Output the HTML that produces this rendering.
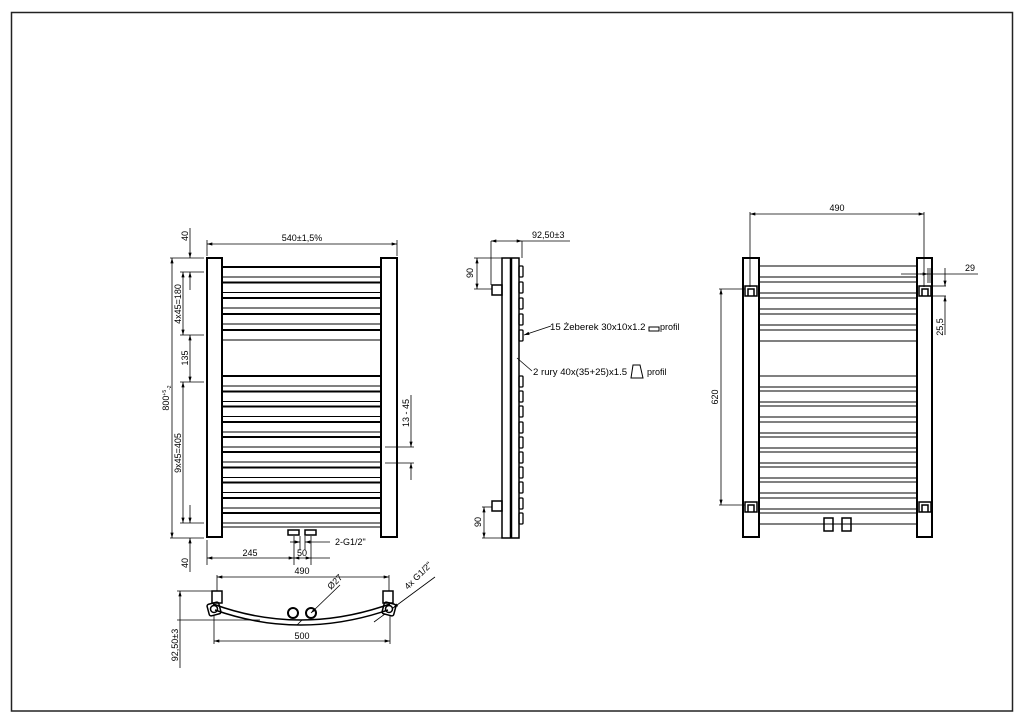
<!DOCTYPE html>
<html><head><meta charset="utf-8"><style>
html,body{margin:0;padding:0;background:#fff;}
svg{display:block;}
text{font-family:"Liberation Sans",sans-serif;font-size:9px;fill:#000;}
</style></head><body>
<svg width="1024" height="724" viewBox="0 0 1024 724" xmlns="http://www.w3.org/2000/svg">
<defs>
<marker id="a" viewBox="0 0 10 6" refX="10" refY="3" markerWidth="8" markerHeight="4" orient="auto-start-reverse"><path d="M0,0L10,3L0,6z" fill="#000"/></marker>
</defs>
<rect x="11.5" y="12.5" width="1001" height="698.5" fill="none" stroke="#222" stroke-width="1.5"/>

<!-- FRONT VIEW -->
<g stroke="#000" fill="none">
<rect x="207" y="258" width="15" height="279" stroke-width="2"/>
<rect x="381" y="258" width="16" height="279" stroke-width="2"/>
<g>
<rect x="222" y="267" width="159" height="10" stroke-width="1"/><line x1="222" y1="267" x2="381" y2="267" stroke-width="2"/>
<rect x="222" y="282.5" width="159" height="10" stroke-width="1"/><line x1="222" y1="282.5" x2="381" y2="282.5" stroke-width="2"/>
<rect x="222" y="298" width="159" height="10" stroke-width="1"/><line x1="222" y1="298" x2="381" y2="298" stroke-width="2"/>
<rect x="222" y="314" width="159" height="10" stroke-width="1"/><line x1="222" y1="314" x2="381" y2="314" stroke-width="2"/>
<rect x="222" y="330" width="159" height="10" stroke-width="1"/><line x1="222" y1="330" x2="381" y2="330" stroke-width="2"/>
<rect x="222" y="376" width="159" height="10" stroke-width="1"/><line x1="222" y1="376" x2="381" y2="376" stroke-width="2"/>
<rect x="222" y="391.5" width="159" height="10" stroke-width="1"/><line x1="222" y1="391.5" x2="381" y2="391.5" stroke-width="2"/>
<rect x="222" y="406.5" width="159" height="10" stroke-width="1"/><line x1="222" y1="406.5" x2="381" y2="406.5" stroke-width="2"/>
<rect x="222" y="422" width="159" height="10" stroke-width="1"/><line x1="222" y1="422" x2="381" y2="422" stroke-width="2"/>
<rect x="222" y="437" width="159" height="10" stroke-width="1"/><line x1="222" y1="437" x2="381" y2="437" stroke-width="2"/>
<rect x="222" y="452" width="159" height="10" stroke-width="1"/><line x1="222" y1="452" x2="381" y2="452" stroke-width="2"/>
<rect x="222" y="467.5" width="159" height="10" stroke-width="1"/><line x1="222" y1="467.5" x2="381" y2="467.5" stroke-width="2"/>
<rect x="222" y="482.5" width="159" height="10" stroke-width="1"/><line x1="222" y1="482.5" x2="381" y2="482.5" stroke-width="2"/>
<rect x="222" y="498" width="159" height="10" stroke-width="1"/><line x1="222" y1="498" x2="381" y2="498" stroke-width="2"/>
<rect x="222" y="513" width="159" height="10" stroke-width="1"/><line x1="222" y1="513" x2="381" y2="513" stroke-width="2"/>
</g>
<line x1="222" y1="527" x2="381" y2="527" stroke-width="1"/>
<rect x="288" y="530" width="11" height="5" stroke-width="1.5"/>
<rect x="305" y="530" width="11" height="5" stroke-width="1.5"/>
</g>
<g stroke="#000" stroke-width="0.8" fill="none">
<line x1="207" y1="256" x2="207" y2="240"/><line x1="397" y1="256" x2="397" y2="240"/>
<line x1="207" y1="244" x2="397" y2="244" marker-start="url(#a)" marker-end="url(#a)"/>
<line x1="170" y1="258" x2="204" y2="258"/><line x1="180" y1="272" x2="204" y2="272"/>
<line x1="180" y1="335" x2="204" y2="335"/><line x1="180" y1="382" x2="204" y2="382"/>
<line x1="180" y1="523" x2="204" y2="523"/><line x1="170" y1="538" x2="204" y2="538"/>
<line x1="172" y1="258" x2="172" y2="538" marker-start="url(#a)" marker-end="url(#a)"/>
<line x1="183" y1="272" x2="183" y2="335" marker-start="url(#a)" marker-end="url(#a)"/>
<line x1="190" y1="335" x2="190" y2="382" marker-start="url(#a)" marker-end="url(#a)"/>
<line x1="183" y1="382" x2="183" y2="523" marker-start="url(#a)" marker-end="url(#a)"/>
<line x1="190" y1="228" x2="190" y2="258" marker-end="url(#a)"/><line x1="190" y1="272" x2="190" y2="290" marker-start="url(#a)"/>
<line x1="190" y1="505" x2="190" y2="523" marker-end="url(#a)"/><line x1="190" y1="538" x2="190" y2="572" marker-start="url(#a)"/>
<line x1="385" y1="447" x2="414" y2="447"/><line x1="385" y1="463" x2="414" y2="463"/>
<line x1="411" y1="395" x2="411" y2="447" marker-end="url(#a)"/><line x1="411" y1="463" x2="411" y2="480" marker-start="url(#a)"/>
<line x1="207" y1="540" x2="207" y2="565"/><line x1="294" y1="536" x2="294" y2="565"/><line x1="311" y1="536" x2="311" y2="565"/>
<line x1="305" y1="536" x2="305" y2="550"/><line x1="300" y1="536" x2="300" y2="550"/>
<line x1="207" y1="558" x2="294" y2="558" marker-start="url(#a)" marker-end="url(#a)"/>
<line x1="294" y1="558" x2="311" y2="558" marker-start="url(#a)" marker-end="url(#a)"/><line x1="311" y1="558" x2="330" y2="558"/>
<line x1="290" y1="542" x2="300" y2="542" marker-end="url(#a)"/><line x1="305" y1="542" x2="330" y2="542" marker-start="url(#a)"/>
</g>
<text x="302" y="241" text-anchor="middle">540±1,5%</text>
<text transform="translate(188,236) rotate(-90)" text-anchor="middle">40</text>
<text transform="translate(181,304) rotate(-90)" text-anchor="middle">4x45=180</text>
<text transform="translate(188,358) rotate(-90)" text-anchor="middle">135</text>
<text transform="translate(169,398) rotate(-90)" text-anchor="middle">800<tspan font-size="5" dy="-3">+5</tspan><tspan font-size="5" dy="5">-2</tspan></text>
<text transform="translate(181,453) rotate(-90)" text-anchor="middle">9x45=405</text>
<text transform="translate(188,563) rotate(-90)" text-anchor="middle">40</text>
<text transform="translate(409,413) rotate(-90)" text-anchor="middle">13 - 45</text>
<text x="335" y="545">2-G1/2"</text>
<text x="250" y="556" text-anchor="middle">245</text>
<text x="302" y="556" text-anchor="middle">50</text>

<!-- SIDE VIEW -->
<g stroke="#000" fill="none">
<rect x="502" y="258" width="17" height="280" stroke-width="1.5"/>
<line x1="511" y1="258" x2="511" y2="538" stroke-width="2.5"/>
<rect x="492" y="285" width="10" height="10" stroke-width="1.5"/>
<rect x="492" y="501" width="10" height="10" stroke-width="1.5"/>
<g stroke-width="1.3">
<rect x="519" y="266" width="4" height="11" rx="1"/><rect x="519" y="282" width="4" height="11" rx="1"/>
<rect x="519" y="298" width="4" height="11" rx="1"/><rect x="519" y="314" width="4" height="11" rx="1"/>
<rect x="519" y="330" width="4" height="11" rx="1"/><rect x="519" y="376" width="4" height="11" rx="1"/>
<rect x="519" y="391" width="4" height="11" rx="1"/><rect x="519" y="406" width="4" height="11" rx="1"/>
<rect x="519" y="422" width="4" height="11" rx="1"/><rect x="519" y="437" width="4" height="11" rx="1"/>
<rect x="519" y="452" width="4" height="11" rx="1"/><rect x="519" y="467" width="4" height="11" rx="1"/>
<rect x="519" y="482" width="4" height="11" rx="1"/><rect x="519" y="498" width="4" height="11" rx="1"/>
<rect x="519" y="513" width="4" height="11" rx="1"/>
</g>
</g>
<g stroke="#000" stroke-width="0.8" fill="none">
<line x1="491" y1="241" x2="491" y2="285"/><line x1="522" y1="241" x2="522" y2="258"/>
<line x1="491" y1="241" x2="522" y2="241" marker-start="url(#a)" marker-end="url(#a)"/><line x1="522" y1="241" x2="570" y2="241"/>
<line x1="474" y1="258" x2="502" y2="258"/><line x1="474" y1="289" x2="492" y2="289"/>
<line x1="477" y1="258" x2="477" y2="289" marker-start="url(#a)" marker-end="url(#a)"/>
<line x1="482" y1="507" x2="492" y2="507"/><line x1="482" y1="538" x2="502" y2="538"/>
<line x1="484" y1="507" x2="484" y2="538" marker-start="url(#a)" marker-end="url(#a)"/>
<line x1="551" y1="326" x2="524" y2="335" marker-end="url(#a)"/>
<line x1="532" y1="371" x2="517" y2="358"/>
</g>
<text x="532" y="238">92,50±3</text>
<text transform="translate(473,273) rotate(-90)" text-anchor="middle">90</text>
<text transform="translate(481,522) rotate(-90)" text-anchor="middle">90</text>
<text x="550" y="330" style="font-size:9.6px">15 Żeberek 30x10x1.2</text>
<rect x="649" y="327" width="10" height="4" fill="none" stroke="#000" stroke-width="1"/>
<text x="660" y="330">profil</text>
<text x="533" y="375" style="font-size:9.6px">2 rury 40x(35+25)x1.5</text>
<path d="M633,365 L640,365 L643,378 L631,378 Z" fill="none" stroke="#000" stroke-width="1"/>
<text x="647" y="375">profil</text>

<!-- RIGHT VIEW -->
<g stroke="#000" fill="none">
<rect x="743" y="258" width="16" height="279" stroke-width="2"/>
<rect x="917" y="258" width="15" height="279" stroke-width="2"/>
<g stroke-width="1">
<rect x="759" y="266" width="158" height="11"/><rect x="759" y="282" width="158" height="11"/>
<rect x="759" y="298" width="158" height="11"/><rect x="759" y="314" width="158" height="11"/>
<rect x="759" y="330" width="158" height="11"/><rect x="759" y="376" width="158" height="11"/>
<rect x="759" y="391" width="158" height="11"/><rect x="759" y="406" width="158" height="11"/>
<rect x="759" y="422" width="158" height="11"/><rect x="759" y="437" width="158" height="11"/>
<rect x="759" y="452" width="158" height="11"/><rect x="759" y="467" width="158" height="11"/>
<rect x="759" y="482" width="158" height="11"/><rect x="759" y="498" width="158" height="11"/>
<rect x="759" y="513" width="158" height="11"/>
</g>
<g stroke-width="1.5">
<rect x="745" y="286" width="12" height="10"/><path d="M748,296V289H754V296"/>
<rect x="919" y="286" width="12" height="10"/><path d="M922,296V289H928V296"/>
<rect x="745" y="502" width="12" height="10"/><path d="M748,512V505H754V512"/>
<rect x="919" y="502" width="12" height="10"/><path d="M922,512V505H928V512"/>
</g>
<rect x="824" y="518" width="9" height="13" stroke-width="1.5"/>
<rect x="842" y="518" width="9" height="13" stroke-width="1.5"/>
</g>
<g stroke="#000" stroke-width="0.8" fill="none">
<line x1="750" y1="212" x2="750" y2="287"/><line x1="924" y1="212" x2="924" y2="287"/>
<line x1="750" y1="214" x2="924" y2="214" marker-start="url(#a)" marker-end="url(#a)"/>
<line x1="719" y1="289" x2="745" y2="289"/><line x1="719" y1="505" x2="745" y2="505"/>
<line x1="721" y1="289" x2="721" y2="505" marker-start="url(#a)" marker-end="url(#a)"/>
<line x1="901" y1="274" x2="978" y2="274"/>
<line x1="920" y1="274" x2="928" y2="274" marker-end="url(#a)"/>
<line x1="930" y1="268" x2="930" y2="283"/><line x1="928" y1="268" x2="928" y2="283"/>
<line x1="932" y1="286" x2="946" y2="286"/><line x1="932" y1="296" x2="946" y2="296"/>
<line x1="945" y1="268" x2="945" y2="286" marker-end="url(#a)"/>
<line x1="945" y1="296" x2="945" y2="335" marker-start="url(#a)"/>
</g>
<text x="837" y="211" text-anchor="middle">490</text>
<text transform="translate(718,397) rotate(-90)" text-anchor="middle">620</text>
<text x="965" y="271">29</text>
<text transform="translate(943,327) rotate(-90)" text-anchor="middle">25,5</text>

<!-- BOTTOM VIEW -->
<g stroke="#000" fill="none">
<path d="M213,604 Q300,636 390,604" stroke-width="1.5"/>
<path d="M215,610 Q300,640 388,610" stroke-width="1.5"/>
<rect x="212" y="591" width="10" height="12" stroke-width="1.5"/>
<rect x="383" y="591" width="10" height="12" stroke-width="1.5"/>
<rect x="208" y="603" width="12" height="12" rx="2" stroke-width="1.5" transform="rotate(-15 214 609)"/>
<circle cx="214" cy="609" r="3.5" stroke-width="1.5"/>
<rect x="383" y="603" width="12" height="12" rx="2" stroke-width="1.5" transform="rotate(15 389 609)"/>
<circle cx="389" cy="609" r="3.5" stroke-width="1.5"/>
<circle cx="293" cy="613" r="5" stroke-width="2"/>
<circle cx="311" cy="613" r="5" stroke-width="2"/>
</g>
<g stroke="#000" stroke-width="0.8" fill="none">
<line x1="217" y1="575" x2="217" y2="591"/><line x1="389" y1="575" x2="389" y2="591"/>
<line x1="217" y1="577" x2="389" y2="577" marker-start="url(#a)" marker-end="url(#a)"/>
<line x1="214" y1="615" x2="214" y2="644"/><line x1="390" y1="615" x2="390" y2="644"/>
<line x1="214" y1="641" x2="390" y2="641" marker-start="url(#a)" marker-end="url(#a)"/>
<line x1="177" y1="591" x2="212" y2="591"/><line x1="177" y1="620" x2="260" y2="620"/>
<line x1="180" y1="591" x2="180" y2="668" marker-start="url(#a)"/>
<line x1="340" y1="585" x2="311" y2="613" marker-end="url(#a)"/><line x1="302" y1="620" x2="297" y2="625"/>
<line x1="435" y1="577" x2="393" y2="608" marker-end="url(#a)"/><line x1="385" y1="614" x2="374" y2="622"/>
</g>
<text x="302" y="574" text-anchor="middle">490</text>
<text x="302" y="639" text-anchor="middle">500</text>
<text transform="translate(178,645) rotate(-90)" text-anchor="middle">92,50±3</text>
<text transform="translate(331,590) rotate(-45)">Ø27</text>
<text transform="translate(408,590) rotate(-45)">4x G1/2"</text>
</svg>
</body></html>
